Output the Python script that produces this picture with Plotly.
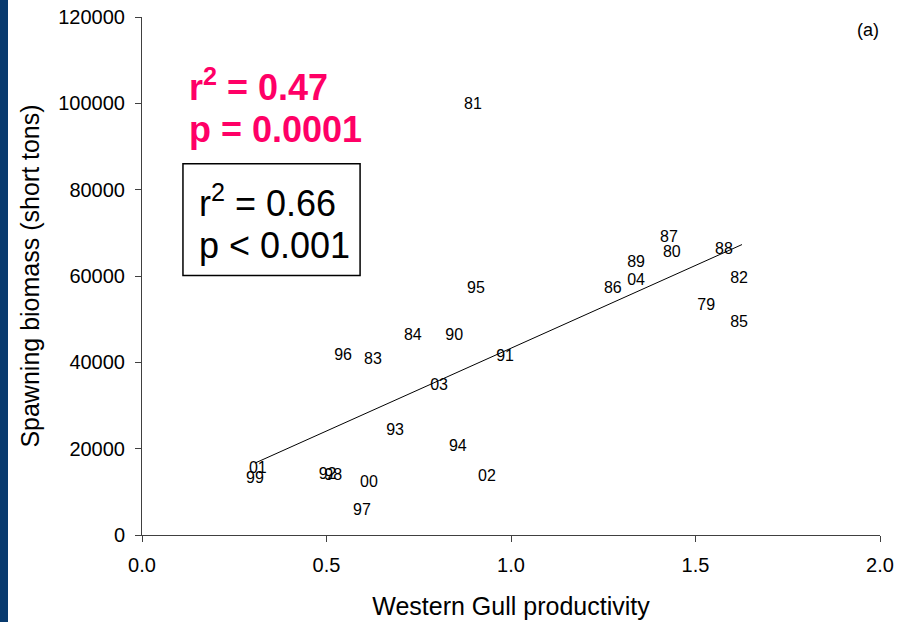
import plotly.graph_objects as go

# Year labels and their (productivity, biomass) values
years = ["81", "87", "80", "88", "89", "04", "82", "86", "79", "85",
         "95", "84", "90", "96", "83", "91", "03", "93", "94",
         "01", "99", "92", "98", "00", "02", "97"]
productivity = [0.897, 1.428, 1.436, 1.577, 1.339, 1.339, 1.618, 1.276, 1.529, 1.618,
                0.905, 0.734, 0.846, 0.545, 0.626, 0.984, 0.805, 0.686, 0.856,
                0.314, 0.306, 0.503, 0.518, 0.615, 0.935, 0.596]
biomass = [99600, 68900, 65400, 66100, 63100, 58900, 59200, 56900, 53000, 49200,
           57100, 46200, 46000, 41400, 40500, 41200, 34500, 24000, 20300,
           15400, 12900, 13900, 13700, 12100, 13400, 5500]

# Fitted trend line end points
trend_x = [0.306, 1.626]
trend_y = [16650, 67280]

FONT = "Arial, Liberation Sans, sans-serif"
PINK = "#FF0066"

fig = go.Figure()
fig.add_trace(go.Scatter(x=trend_x, y=trend_y, mode="lines",
                         line=dict(color="black", width=1), hoverinfo="skip",
                         showlegend=False))
fig.add_trace(go.Scatter(x=productivity, y=biomass, mode="text", text=years,
                         textposition="middle center",
                         textfont=dict(family=FONT, size=16, color="black"),
                         showlegend=False))

fig.update_layout(
    width=899, height=622,
    margin=dict(l=142, r=19, t=17, b=87, autoexpand=False),
    paper_bgcolor="white", plot_bgcolor="white",
    font=dict(family=FONT, color="black"),
    xaxis=dict(range=[0, 2], dtick=0.5, tickformat=".1f", showgrid=False,
               zeroline=False, showline=True, linecolor="#404040", linewidth=1,
               ticks="outside", ticklen=6, tickcolor="#404040", automargin=False,
               tickfont=dict(size=20), ticklabelstandoff=6,
               title=dict(text="Western Gull productivity", font=dict(size=25),
                          standoff=22)),
    yaxis=dict(range=[0, 120000], dtick=20000, tickformat="d", showgrid=False,
               zeroline=False, showline=True, linecolor="#404040", linewidth=1,
               ticks="outside", ticklen=6, tickcolor="#404040", automargin=False,
               tickfont=dict(size=20), ticklabelstandoff=6,
               title=dict(text="Spawning biomass (short tons)", font=dict(size=25),
                          standoff=11)),
)

# Left navy strip
fig.add_shape(type="rect", xref="paper", yref="paper",
              x0=-142/738, x1=-134/738, y0=-87/518, y1=1 + 17/518,
              fillcolor="#083a6e", line=dict(width=0), layer="below")

# Stats box
fig.add_shape(type="rect", xref="x", yref="y", x0=0.111, x1=0.591, y0=60100, y1=86000,
              line=dict(color="black", width=1.5), fillcolor="rgba(0,0,0,0)")

ann = [
    dict(text="<b>r<sup>2</sup> = 0.47</b>", x=0.122, y=104300, size=36, color=PINK),
    dict(text="<b>p = 0.0001</b>", x=0.122, y=93900, size=36, color=PINK),
    dict(text="r<sup>2</sup> = 0.66", x=0.150, y=77300, size=36, color="black"),
    dict(text="p < 0.001", x=0.150, y=67000, size=36, color="black"),
]
for a in ann:
    fig.add_annotation(x=a["x"], y=a["y"], xref="x", yref="y", text=a["text"],
                       showarrow=False, xanchor="left", yanchor="middle",
                       font=dict(family=FONT, size=a["size"], color=a["color"]))

fig.add_annotation(x=1.967, y=117000, xref="x", yref="y", text="(a)", showarrow=False,
                   xanchor="center", yanchor="middle",
                   font=dict(family=FONT, size=18, color="black"))

fig.write_html("out.html")
